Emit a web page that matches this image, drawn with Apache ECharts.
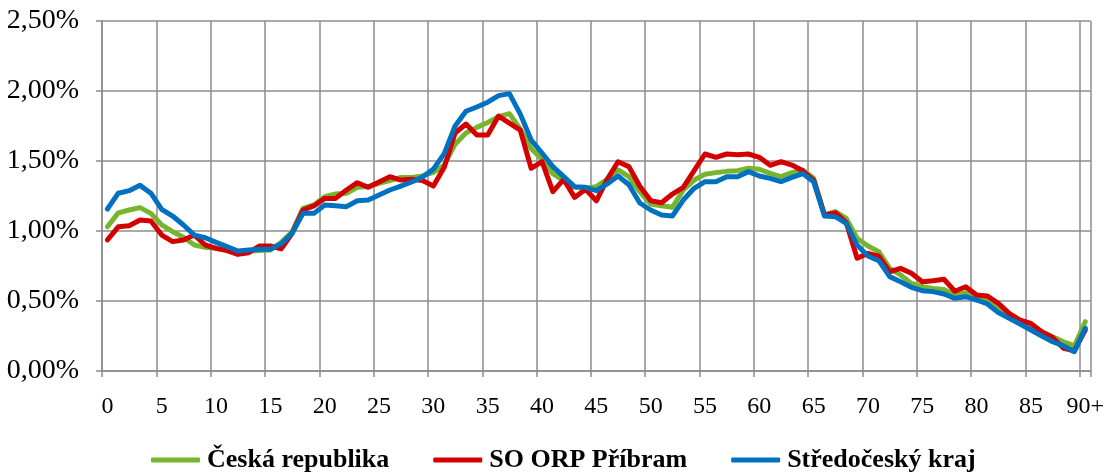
<!DOCTYPE html>
<html>
<head>
<meta charset="utf-8">
<script src="https://cdn.jsdelivr.net/npm/echarts@6/dist/echarts.min.js"></script>
<style>
html,body{margin:0;padding:0;background:#fff;}
#c{width:1107px;height:473px;}
</style>
</head>
<body>
<div id="c"></div>
<script>
const categories = [];
for (let i = 0; i < 90; i++) categories.push(String(i));
categories.push('90+');

const seriesNames = ['Česká republika', 'SO ORP Příbram', 'Středočeský kraj'];

const ceskaRepublika = [
  1.03, 1.13, 1.15, 1.167, 1.126, 1.043, 0.995, 0.955, 0.90, 0.883,
  0.876, 0.864, 0.845, 0.855, 0.86, 0.864, 0.92, 0.995, 1.162, 1.186,
  1.245, 1.264, 1.27, 1.312, 1.317, 1.341, 1.36, 1.383, 1.383, 1.393,
  1.418, 1.47, 1.62, 1.70, 1.74, 1.775, 1.817, 1.838, 1.727, 1.59,
  1.51, 1.41, 1.36, 1.312, 1.305, 1.317, 1.369, 1.436, 1.388, 1.281,
  1.193, 1.18, 1.169, 1.293, 1.364, 1.405, 1.417, 1.426, 1.43, 1.448,
  1.441, 1.412, 1.388, 1.417, 1.435, 1.376, 1.114, 1.138, 1.09, 0.948,
  0.893, 0.852, 0.733, 0.686, 0.626, 0.602, 0.59, 0.583, 0.54, 0.559,
  0.526, 0.507, 0.436, 0.40, 0.36, 0.317, 0.281, 0.245, 0.209, 0.179,
  0.352
];

const soOrpPribram = [
  0.936, 1.03, 1.038, 1.079, 1.071, 0.971, 0.924, 0.936, 0.971, 0.90,
  0.876, 0.86, 0.833, 0.845, 0.893, 0.893, 0.872, 0.984, 1.15, 1.179,
  1.233, 1.233, 1.293, 1.345, 1.312, 1.35, 1.388, 1.364, 1.369, 1.36,
  1.321, 1.455, 1.70, 1.764, 1.686, 1.686, 1.821, 1.77, 1.72, 1.448,
  1.495, 1.281, 1.369, 1.24, 1.298, 1.216, 1.369, 1.495, 1.46, 1.32,
  1.217, 1.202, 1.264, 1.312, 1.431, 1.55, 1.526, 1.55, 1.545, 1.55,
  1.526, 1.469, 1.495, 1.471, 1.43, 1.364, 1.114, 1.131, 1.06, 0.805,
  0.84, 0.821, 0.709, 0.733, 0.698, 0.638, 0.645, 0.655, 0.57, 0.602,
  0.543, 0.536, 0.483, 0.412, 0.364, 0.34, 0.281, 0.24, 0.162, 0.145,
  0.293
];

const stredoceskyKraj = [
  1.157, 1.27, 1.288, 1.326, 1.27, 1.155, 1.107, 1.043, 0.971, 0.952,
  0.919, 0.888, 0.857, 0.864, 0.869, 0.869, 0.91, 0.984, 1.126, 1.126,
  1.186, 1.181, 1.174, 1.216, 1.221, 1.257, 1.293, 1.321, 1.35, 1.385,
  1.442, 1.553, 1.75, 1.855, 1.886, 1.92, 1.967, 1.981, 1.835, 1.65,
  1.557, 1.46, 1.388, 1.317, 1.312, 1.288, 1.336, 1.393, 1.33, 1.20,
  1.15, 1.114, 1.107, 1.221, 1.305, 1.352, 1.352, 1.388, 1.388, 1.424,
  1.393, 1.376, 1.352, 1.383, 1.41, 1.352, 1.107, 1.102, 1.055, 0.90,
  0.821, 0.788, 0.674, 0.638, 0.598, 0.574, 0.567, 0.55, 0.519, 0.531,
  0.507, 0.479, 0.417, 0.376, 0.336, 0.293, 0.25, 0.209, 0.179, 0.138,
  0.305
];

const colors = ['#77B52F', '#D40000', '#0070C0'];
const FONT = '"Liberation Serif", "Times New Roman", serif';
const gridColor = '#8c8c8c';

const chart = echarts.init(document.getElementById('c'), null, {renderer: 'canvas'});

function mk(name, data, color) {
  return {
    name: name,
    type: 'line',
    data: data,
    symbol: 'none',
    smooth: false,
    lineStyle: {width: 5, color: color, join: 'round', cap: 'round'},
    itemStyle: {color: color},
    emphasis: {disabled: true},
    animation: false
  };
}

chart.setOption({
  animation: false,
  grid: {left: 102, right: 13, top: 21, bottom: 102, containLabel: false},
  legend: {
    top: 442,
    left: 146,
    itemWidth: 49,
    itemHeight: 5,
    itemGap: 44,
    icon: 'roundRect',
    textStyle: {fontFamily: FONT, fontSize: 26, fontWeight: 'bold', color: '#000', padding: [0, 0, 0, 2]},
    data: seriesNames
  },
  xAxis: {
    type: 'category',
    data: categories,
    boundaryGap: true,
    axisLine: {lineStyle: {color: gridColor, width: 1.5}},
    axisTick: {show: true, interval: 4, length: 6, lineStyle: {color: gridColor, width: 1.5}},
    splitLine: {show: true, interval: 4, lineStyle: {color: gridColor, width: 1.5}},
    axisLabel: {interval: 4, margin: 24, fontFamily: FONT, fontSize: 24, color: '#000'}
  },
  yAxis: {
    type: 'value',
    min: 0,
    max: 2.5,
    interval: 0.5,
    axisLine: {show: true, lineStyle: {color: gridColor, width: 1.5}},
    axisTick: {show: true, length: 6, lineStyle: {color: gridColor, width: 1.5}},
    splitLine: {show: true, lineStyle: {color: gridColor, width: 1.5}},
    axisLabel: {
      margin: 23, fontFamily: FONT, fontSize: 28, color: '#000',
      formatter: function (v) { return v.toFixed(2).replace('.', ',') + '%'; }
    }
  },
  series: [
    mk(seriesNames[0], ceskaRepublika, colors[0]),
    mk(seriesNames[1], soOrpPribram, colors[1]),
    mk(seriesNames[2], stredoceskyKraj, colors[2])
  ]
});
</script>
</body>
</html>
